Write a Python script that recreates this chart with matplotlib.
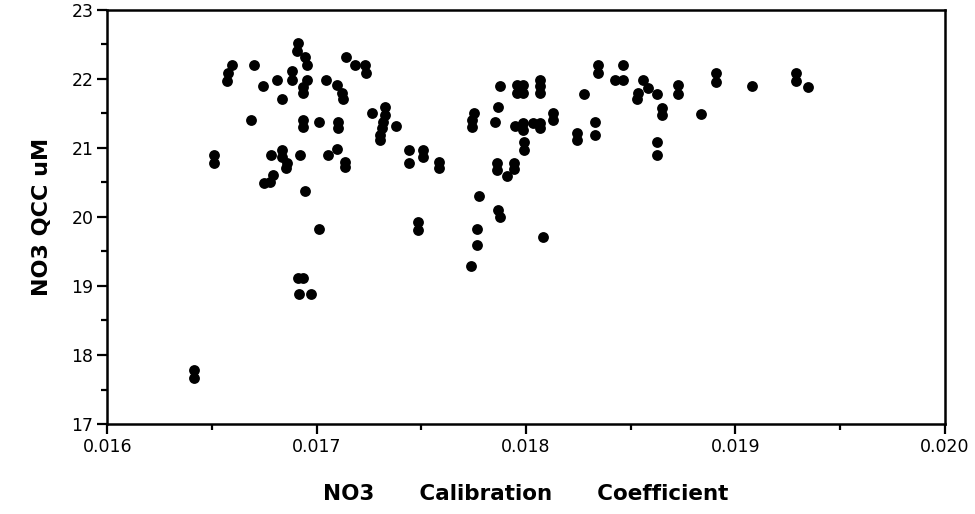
import matplotlib.pyplot as plt
from matplotlib.ticker import MultipleLocator

# NO3 calibration coefficient vs. QCC concentration
calib_coef = [
    0.016910, 0.016905, 0.016945, 0.016956, 0.016595, 0.016576, 0.016574, 0.016703,
    0.017139, 0.017184, 0.017232, 0.017235, 0.016743, 0.016813, 0.016882, 0.016882,
    0.016956, 0.016934, 0.016934, 0.017045, 0.017099, 0.017120, 0.017125, 0.016834,
    0.016687, 0.016934, 0.016934, 0.017009, 0.017104, 0.017104, 0.017263, 0.016512,
    0.016512, 0.016781, 0.016834, 0.016834, 0.016858, 0.016854, 0.016921, 0.016794,
    0.016778, 0.016749, 0.017056, 0.017099, 0.017136, 0.017136, 0.016945, 0.017009,
    0.016412, 0.016412, 0.016913, 0.016937, 0.016918, 0.016972, 0.017737,
    0.017327, 0.017327, 0.017316, 0.017311, 0.017303, 0.017303, 0.017379, 0.017443,
    0.017443, 0.017507, 0.017507, 0.017585, 0.017585, 0.017486, 0.017486, 0.017753,
    0.017741, 0.017741, 0.017776, 0.017765, 0.017765, 0.017876, 0.017868, 0.017852,
    0.017956, 0.017956, 0.017987, 0.017987, 0.018067, 0.018067, 0.018067, 0.017948,
    0.017987, 0.017987, 0.018035, 0.018067, 0.018067, 0.017990, 0.017990, 0.018127,
    0.018127, 0.017860, 0.017860, 0.017908, 0.017943, 0.017943, 0.017868, 0.017876,
    0.018079, 0.018245, 0.018245, 0.018278, 0.018329, 0.018329, 0.018342, 0.018342,
    0.018464, 0.018425, 0.018464, 0.018560, 0.018536, 0.018528, 0.018584, 0.018627,
    0.018651, 0.018651, 0.018624, 0.018624,
    0.018727, 0.018727, 0.018834, 0.018907, 0.018907, 0.019077, 0.019289, 0.019289,
    0.019345,
]
qcc_um = [
    22.52, 22.40, 22.32, 22.20, 22.20, 22.08, 21.97, 22.20,
    22.31, 22.20, 22.20, 22.09, 21.90, 21.99, 22.11, 21.99,
    21.99, 21.88, 21.79, 21.99, 21.91, 21.80, 21.71, 21.71,
    21.40, 21.40, 21.30, 21.38, 21.38, 21.29, 21.50, 20.90,
    20.78, 20.90, 20.97, 20.87, 20.78, 20.71, 20.90, 20.61,
    20.50, 20.49, 20.90, 20.98, 20.80, 20.73, 20.38, 19.82,
    17.79, 17.67, 19.11, 19.11, 18.88, 18.88, 19.29,
    21.59, 21.48, 21.38, 21.29, 21.19, 21.11, 21.31, 20.97,
    20.78, 20.97, 20.87, 20.80, 20.71, 19.93, 19.81, 21.51,
    21.41, 21.30, 20.31, 19.82, 19.60, 21.90, 21.59, 21.38,
    21.91, 21.79, 21.91, 21.79, 21.99, 21.89, 21.79, 21.31,
    21.36, 21.26, 21.36, 21.36, 21.29, 21.09, 20.97, 21.51,
    21.40, 20.78, 20.68, 20.59, 20.78, 20.69, 20.10, 20.00,
    19.71, 21.21, 21.12, 21.78, 21.38, 21.19, 22.20, 22.09,
    22.20, 21.98, 21.98, 21.98, 21.79, 21.71, 21.87, 21.78,
    21.58, 21.48, 21.09, 20.89,
    21.91, 21.78, 21.49, 22.09, 21.96, 21.89, 22.09, 21.97,
    21.88,
]

plt.rcParams['font.family'] = ['DejaVu Sans']

fig = plt.figure(figsize=(9.75, 5.14), dpi=100)
ax = fig.add_axes([0.110, 0.175, 0.859, 0.806])

ax.plot(calib_coef, qcc_um, 'o', color='black', markersize=7.8, markeredgewidth=0)

ax.set_xlim(0.016, 0.020)
ax.set_ylim(17, 23)
ax.xaxis.set_major_locator(MultipleLocator(0.001))
ax.xaxis.set_minor_locator(MultipleLocator(0.0005))
ax.yaxis.set_major_locator(MultipleLocator(1))
ax.yaxis.set_minor_locator(MultipleLocator(0.5))
ax.xaxis.set_major_formatter(plt.FormatStrFormatter('%.3f'))

ax.tick_params(which='major', direction='out', length=7, width=1.6, labelsize=12.5, pad=3)
ax.tick_params(which='minor', direction='out', length=4, width=1.6)
for s in ax.spines.values():
    s.set_linewidth(1.8)

ax.set_xlabel("NO3      Calibration      Coefficient", fontsize=15.5, fontweight='bold', labelpad=20)
ax.set_ylabel("NO3 QCC uM", fontsize=16, fontweight='bold', labelpad=14)

plt.savefig('out.png', dpi=100)
